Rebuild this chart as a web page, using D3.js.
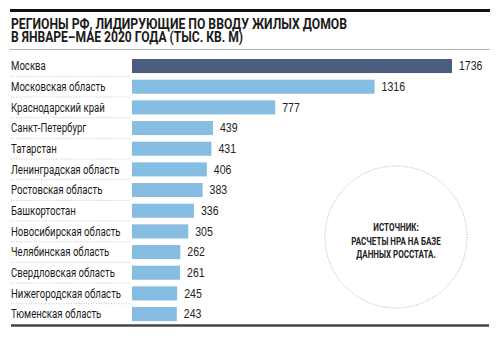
<!DOCTYPE html>
<html><head><meta charset="utf-8">
<script src="https://cdn.jsdelivr.net/npm/d3@7"></script>
<style>html,body{margin:0;padding:0;background:#fff;}</style>
</head><body>
<svg id="chart" width="504" height="338"></svg>
<script>
const regions = ["Москва","Московская область","Краснодарский край","Санкт-Петербург","Татарстан","Ленинградская область","Ростовская область","Башкортостан","Новосибирская область","Челябинская область","Свердловская область","Нижегородская область","Тюменская область"];
const values = [1736,1316,777,439,431,406,383,336,305,262,261,245,243];
const titleLines = ["РЕГИОНЫ РФ, ЛИДИРУЮЩИЕ ПО ВВОДУ ЖИЛЫХ ДОМОВ","В ЯНВАРЕ–МАЕ 2020 ГОДА (ТЫС. КВ. М)"];
const noteLines = ["ИСТОЧНИК:","РАСЧЕТЫ НРА НА БАЗЕ","ДАННЫХ РОССТАТА."];

const svg = d3.select("#chart");
const x = d3.scaleLinear().domain([0, 1736]).range([132, 452]);
const y = d3.scaleBand().domain(regions).range([55.7, 324.4]).paddingInner(0.32).paddingOuter(0.16);

function condense(sel, f){ sel.each(function(){ const w=this.getComputedTextLength(); d3.select(this).attr("textLength", w*f).attr("lengthAdjust","spacingAndGlyphs");}); }

// top rule
svg.append("line").attr("x1",10).attr("x2",490).attr("y1",10.5).attr("y2",10.5).attr("stroke","#111").attr("stroke-width",3);
// title (one text element, two lines)
const title = svg.append("text")
  .attr("font-family","Roboto, sans-serif").attr("font-weight","bold").attr("font-size",14).attr("fill","#1a1a1a");
title.selectAll("tspan").data(titleLines).join("tspan")
  .attr("x",11).attr("y",(d,i)=>29+i*13.4)
  .attr("textLength",(d,i)=>i===0?336:232).attr("lengthAdjust","spacingAndGlyphs")
  .text(d=>d);
// gray rule
svg.append("line").attr("x1",10).attr("x2",490).attr("y1",49.5).attr("y2",49.5).attr("stroke","#b0b0b0").attr("stroke-width",1);

// dotted separators
svg.selectAll("line.sep").data(regions.slice(1)).join("line").attr("class","sep")
  .attr("x1",11).attr("x2",130)
  .attr("y1",d=>y(d)-y.step()*y.paddingInner()/2).attr("y2",d=>y(d)-y.step()*y.paddingInner()/2)
  .attr("stroke","#b8b8b8").attr("stroke-width",0.8).attr("stroke-dasharray","1,1.5");

// bars
svg.selectAll("rect.bar").data(values).join("rect").attr("class","bar")
  .attr("x",x(0)).attr("y",(d,i)=>y(regions[i])).attr("height",y.bandwidth())
  .attr("width",d=>x(d)-x(0)).attr("fill",(d,i)=>i===0?"#4b5e7f":"#86bde2");

// category labels
const cl = svg.selectAll("text.cat").data(regions).join("text").attr("class","cat")
  .attr("x",11).attr("y",d=>y(d)+y.bandwidth()/2).attr("dy","0.35em")
  .attr("font-family","Roboto, sans-serif").attr("font-size",12).attr("fill","#1a1a1a").text(d=>d);
condense(cl, 0.8);

// value labels
svg.selectAll("text.val").data(values).join("text").attr("class","val")
  .attr("x",d=>x(d)+7).attr("y",(d,i)=>y(regions[i])+y.bandwidth()/2).attr("dy","0.36em")
  .attr("font-family","'Liberation Sans', Arial, sans-serif").attr("font-size",12).attr("fill","#222").text(d=>d)
  .call(s=>condense(s,0.88));

// bottom rule
svg.append("line").attr("x1",11).attr("x2",489).attr("y1",325.5).attr("y2",325.5).attr("stroke","#444").attr("stroke-width",2.5);

// note circle
svg.append("circle").attr("cx",396).attr("cy",237).attr("r",71).attr("fill","none")
  .attr("stroke","#999").attr("stroke-width",0.8).attr("stroke-dasharray","1,1.5");
const nl = svg.selectAll("text.note").data(noteLines).join("text").attr("class","note")
  .attr("x",396).attr("y",(d,i)=>[227,241,254][i]).attr("dy","0.35em").attr("text-anchor","middle")
  .attr("font-family","Roboto, sans-serif").attr("font-weight","bold").attr("font-size",10).attr("fill","#222").text(d=>d);
condense(nl, 0.8);
</script>
</body></html>
